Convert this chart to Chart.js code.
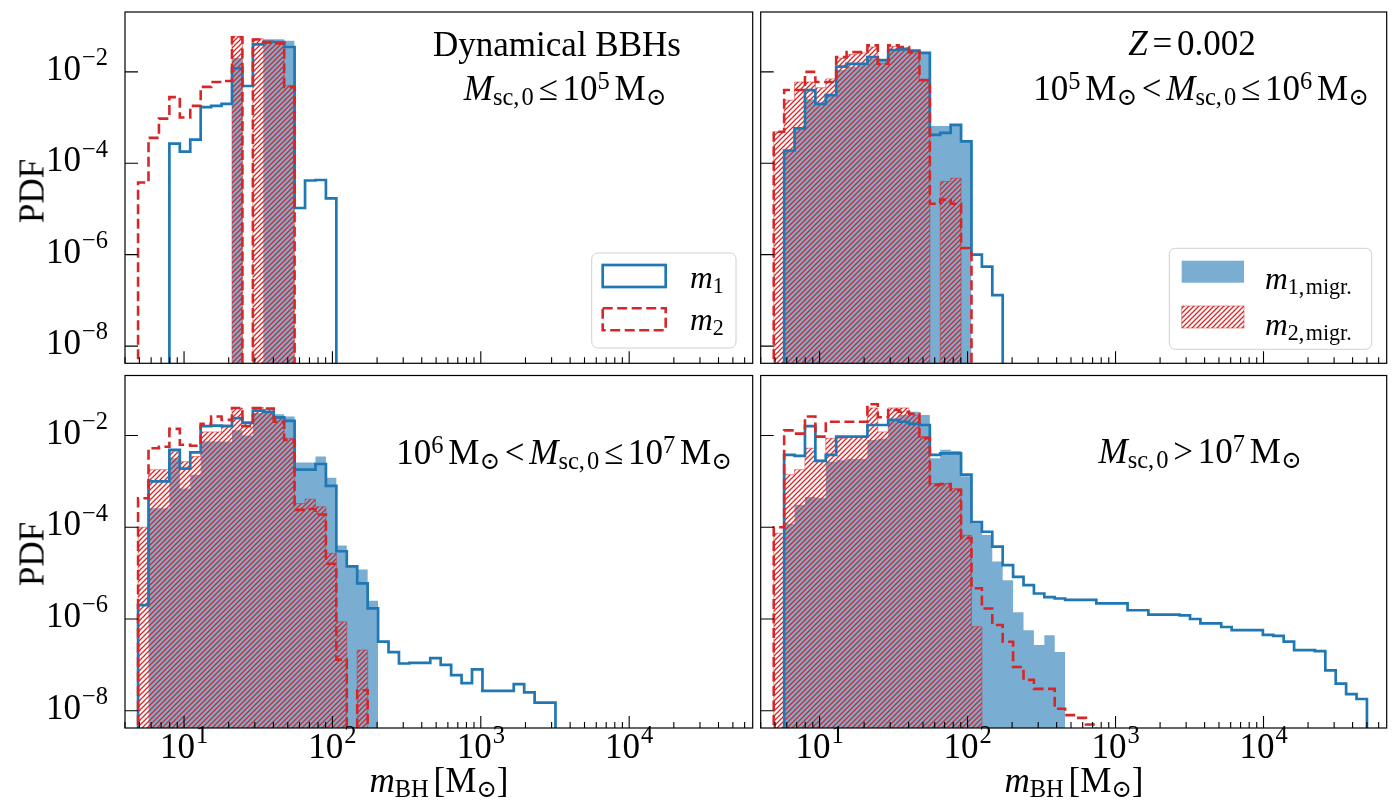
<!DOCTYPE html>
<html>
<head>
<meta charset="utf-8">
<script src="https://cdn.jsdelivr.net/npm/chart.js@4.4.0/dist/chart.umd.min.js"></script>
<style>
  body { margin: 0; background: #fff; width: 1397px; height: 803px; overflow: hidden; position: relative; }
  canvas { position: absolute; left: 0; top: 0; }
  .t { position: absolute; font-family: "Liberation Serif", "DejaVu Serif", serif; font-size: 35px; line-height: 1;
       white-space: nowrap; color: #000; }
  .c { transform: translateX(-50%); }
  .m { word-spacing: -4px; }
  .lg { font-size: 31.5px; }
  .s { font-size: 0.7em; vertical-align: -0.22em; line-height: 0; }
  .p { font-size: 0.7em; vertical-align: 0.45em; line-height: 0; }
  .rot { transform: translate(-50%, -50%) rotate(-90deg); }
</style>
</head>
<body>
<canvas id="pA" width="1397" height="803"></canvas>
<canvas id="pB" width="1397" height="803"></canvas>
<canvas id="pC" width="1397" height="803"></canvas>
<canvas id="pD" width="1397" height="803"></canvas>

<!-- panel titles -->
<div class="t c" style="left:557px; top:27px;">Dynamical BBHs</div>
<div class="t c m" style="left:565px; top:71px;"><i>M</i><span class="s">sc, 0</span> ≤ 10<span class="p">5</span> M<span class="s">⊙</span></div>
<div class="t c m" style="left:1192px; top:26px;"><i>Z</i> = 0.002</div>
<div class="t c m" style="left:1201px; top:71px;">10<span class="p">5</span> M<span class="s">⊙</span> &lt; <i>M</i><span class="s">sc, 0</span> ≤ 10<span class="p">6</span> M<span class="s">⊙</span></div>
<div class="t c m" style="left:564px; top:435px;">10<span class="p">6</span> M<span class="s">⊙</span> &lt; <i>M</i><span class="s">sc, 0</span> ≤ 10<span class="p">7</span> M<span class="s">⊙</span></div>
<div class="t c m" style="left:1200px; top:434px;"><i>M</i><span class="s">sc, 0</span> &gt; 10<span class="p">7</span> M<span class="s">⊙</span></div>

<!-- legend labels -->
<div class="t lg" style="left:690px; top:262px;"><i>m</i><span class="s">1</span></div>
<div class="t lg" style="left:690px; top:304px;"><i>m</i><span class="s">2</span></div>
<div class="t lg m" style="left:1265px; top:263px;"><i>m</i><span class="s">1, migr.</span></div>
<div class="t lg m" style="left:1265px; top:309px;"><i>m</i><span class="s">2, migr.</span></div>

<!-- axis labels -->
<div class="t rot" style="left:32px; top:191px;">PDF</div>
<div class="t rot" style="left:32px; top:554px;">PDF</div>
<div class="t c m" style="left:439px; top:763px;"><i>m</i><span class="s">BH</span> [M<span class="s">⊙</span>]</div>
<div class="t c m" style="left:1074px; top:763px;"><i>m</i><span class="s">BH</span> [M<span class="s">⊙</span>]</div>

<script>
// ---------- binning and axes ----------
const BIN_LO = 4.9;      // first bin edge [Msun]
const BIN_HI = 5.0e4;    // last bin edge [Msun]
const N_BINS = 57;       // log-spaced bins

const X_MIN = 4.0, X_MAX = 6.8e4;
const Y_MIN = 4.2e-9, Y_MAX = 0.204;
const X_MAJOR = [1e1, 1e2, 1e3, 1e4];
const Y_MAJOR = [1e-2, 1e-4, 1e-6, 1e-8];

// ---------- PDF per bin (bin 0 first, arrays stop at last non-empty bin) ----------
// Msc,0 <= 1e5
const dynLow_m1 = [0, 0, 0, 2.7e-4, 1.8e-4, 3.3e-4, 1.7e-3, 1.8e-3, 2.0e-3, 1.2e-2, 4.9e-3, 4.0e-2, 4.5e-2, 4.5e-2, 3.5e-2, 1.05e-5, 4.2e-5, 4.3e-5, 1.7e-5];
const dynLow_m2 = [3.8e-5, 3.6e-4, 9.5e-4, 2.8e-3, 1.0e-3, 1.8e-3, 4.7e-3, 6.0e-3, 6.3e-3, 5.7e-2, 0, 5.1e-2, 4.4e-2, 4.2e-2, 4.7e-3];
const dynLow_m1mig = [0, 0, 0, 0, 0, 0, 0, 0, 0, 2.0e-2, 0, 0, 5.2e-2, 5.2e-2, 4.8e-2];
const dynLow_m2mig = [0, 0, 0, 0, 0, 0, 0, 0, 0, 6.0e-2, 0, 5.3e-2, 4.8e-2, 4.5e-2, 5.0e-3];

// 1e5 < Msc,0 <= 1e6
const dynMid_m1 = [0, 1.9e-4, 5.8e-4, 4.0e-3, 2.0e-3, 3.1e-3, 1.3e-2, 1.5e-2, 1.5e-2, 2.1e-2, 1.8e-2, 3.0e-2, 3.1e-2, 2.9e-2, 2.6e-2, 4.2e-4, 4.6e-4, 6.9e-4, 3.0e-4, 1.0e-6, 5.5e-7, 1.3e-7];
const dynMid_m2 = [4.9e-4, 4.0e-3, 4.0e-3, 1.0e-2, 6.0e-3, 6.0e-3, 2.1e-2, 2.7e-2, 2.7e-2, 3.8e-2, 1.5e-2, 3.8e-2, 3.5e-2, 2.7e-2, 6.6e-3, 1.3e-5, 1.6e-5, 1.3e-5, 1.4e-6];
const dynMid_m1mig = [0, 1.9e-4, 5.8e-4, 2.5e-3, 2.0e-3, 3.1e-3, 1.1e-2, 1.3e-2, 1.4e-2, 1.9e-2, 1.8e-2, 2.8e-2, 3.0e-2, 2.9e-2, 2.6e-2, 6.5e-4, 6.5e-4, 7.0e-4, 3.0e-4];
const dynMid_m2mig = [4.9e-4, 2.4e-3, 6.0e-3, 6.0e-3, 4.5e-3, 7.0e-3, 2.0e-2, 2.4e-2, 2.6e-2, 3.5e-2, 1.5e-2, 3.6e-2, 3.4e-2, 2.6e-2, 6.6e-3, 0, 4.0e-5, 4.7e-5];

// 1e6 < Msc,0 <= 1e7
const dynHigh_m1 = [2.0e-6, 1.0e-3, 1.0e-3, 4.9e-3, 1.9e-3, 4.3e-3, 1.6e-2, 1.65e-2, 1.6e-2, 2.4e-2, 1.9e-2, 3.5e-2, 3.3e-2, 2.5e-2, 2.1e-2, 1.8e-3, 1.8e-3, 2.4e-3, 8.0e-4, 3.0e-5, 1.4e-5, 6.0e-6, 1.7e-6, 3.2e-7, 1.9e-7, 1.07e-7, 1.1e-7, 1.1e-7, 1.4e-7, 1.0e-7, 6.0e-8, 4.0e-8, 8.0e-8, 2.7e-8, 2.7e-8, 2.7e-8, 3.8e-8, 2.5e-8, 1.5e-8, 1.5e-8];
const dynHigh_m2 = [4.3e-4, 5.3e-3, 5.7e-3, 1.4e-2, 6.3e-3, 6.0e-3, 1.8e-2, 2.6e-2, 2.2e-2, 4.0e-2, 1.6e-2, 4.0e-2, 3.9e-2, 2.0e-2, 8.0e-3, 2.4e-4, 2.5e-4, 1.9e-4, 1.6e-5, 1.3e-7, 0, 2.8e-8];
const dynHigh_m1mig = [0, 2.6e-4, 2.6e-4, 3.2e-3, 7.0e-4, 1.4e-3, 7.4e-3, 7.4e-3, 7.4e-3, 1.3e-2, 1.0e-2, 3.1e-2, 3.1e-2, 2.9e-2, 2.6e-2, 2.6e-3, 2.6e-3, 3.5e-3, 1.2e-3, 4.0e-5, 1.5e-5, 1.2e-5, 2.5e-6];
const dynHigh_m2mig = [1.0e-4, 1.8e-3, 1.8e-3, 4.5e-3, 2.7e-3, 3.5e-3, 1.2e-2, 1.2e-2, 1.7e-2, 4.0e-2, 2.0e-2, 4.1e-2, 3.7e-2, 2.4e-2, 8.7e-3, 3.3e-4, 4.1e-4, 2.8e-4, 2.7e-5, 8.7e-7, 0, 2.1e-7];

// Msc,0 > 1e7
const dynMassive_m1 = [0, 3.8e-3, 3.6e-3, 1.6e-2, 2.8e-3, 3.8e-3, 9.5e-3, 9.5e-3, 9.5e-3, 1.7e-2, 1.7e-2, 2.2e-2, 2.0e-2, 1.8e-2, 1.7e-2, 3.8e-3, 4.1e-3, 4.1e-3, 1.4e-3, 1.3e-4, 8.0e-5, 3.8e-5, 1.5e-5, 8.3e-6, 5.5e-6, 3.6e-6, 3.0e-6, 2.8e-6, 2.6e-6, 2.6e-6, 2.6e-6, 2.2e-6, 2.2e-6, 2.2e-6, 1.55e-6, 1.55e-6, 1.25e-6, 1.25e-6, 1.25e-6, 1.2e-6, 1.0e-6, 8.0e-7, 8.0e-7, 6.7e-7, 5.7e-7, 5.7e-7, 5.7e-7, 4.5e-7, 4.3e-7, 3.2e-7, 2.1e-7, 2.1e-7, 2.0e-7, 7.6e-8, 3.9e-8, 2.3e-8, 1.8e-8];
const dynMassive_m2 = [1.0e-4, 1.3e-2, 1.1e-2, 2.6e-2, 9.5e-3, 2.0e-2, 2.0e-2, 2.0e-2, 2.0e-2, 4.8e-2, 2.5e-2, 3.6e-2, 3.3e-2, 3.0e-2, 8.8e-3, 8.4e-4, 8.8e-4, 6.5e-4, 5.8e-5, 4.7e-6, 1.7e-6, 7.4e-7, 3.2e-7, 9.0e-8, 4.7e-8, 3.0e-8, 3.0e-8, 1.1e-8, 8.0e-9, 7.0e-9, 5.0e-9];
const dynMassive_m1mig = [0, 1.2e-4, 3.1e-4, 4.6e-4, 4.4e-4, 2.7e-3, 2.9e-3, 3.1e-3, 3.1e-3, 8.0e-3, 8.5e-3, 2.2e-2, 2.8e-2, 3.3e-2, 2.8e-2, 3.2e-3, 4.9e-3, 4.6e-3, 1.3e-3, 1.2e-4, 6.8e-5, 1.8e-5, 7.0e-6, 1.4e-6, 5.7e-7, 2.7e-7, 4.4e-7, 1.9e-7];
const dynMassive_m2mig = [7.4e-5, 1.4e-3, 1.8e-3, 5.3e-3, 2.9e-3, 8.7e-3, 8.7e-3, 9.5e-3, 9.5e-3, 4.0e-2, 1.2e-2, 4.0e-2, 4.0e-2, 2.8e-2, 9.5e-3, 9.0e-4, 9.0e-4, 7.0e-4, 6.7e-5, 6.8e-7];

// ---------- styles ----------
const BLUE = '#1f77b4';
const RED = '#d62728';
const BLUE_FILL = 'rgba(31,119,180,0.6)';
const FONT = '"Liberation Serif", "DejaVu Serif", serif';
const FS = 35;

const lgLo = Math.log10(BIN_LO), lgHi = Math.log10(BIN_HI);
const EDGES = [];
for (let k = 0; k <= N_BINS; k++) EDGES.push(Math.pow(10, lgLo + k * (lgHi - lgLo) / N_BINS));

const FLOOR = 1e-14; // empty bins sit far below the axis (log axis has no zero)

function stepPoints(vals) {
  const n = vals.length;
  const pts = [{ x: EDGES[0], y: FLOOR }];
  for (let k = 0; k < n; k++) pts.push({ x: EDGES[k], y: vals[k] > 0 ? vals[k] : FLOOR });
  pts.push({ x: EDGES[n], y: vals[n - 1] > 0 ? vals[n - 1] : FLOOR });
  pts.push({ x: EDGES[n], y: FLOOR });
  return pts;
}

function hatchPattern(ctx) {
  const p = 5;
  const c = document.createElement('canvas');
  c.width = p; c.height = p;
  const g = c.getContext('2d');
  g.strokeStyle = RED;
  g.lineWidth = 1.3;
  g.beginPath();
  g.moveTo(-1, p + 1); g.lineTo(p + 1, -1);
  g.moveTo(-1, 1); g.lineTo(1, -1);
  g.moveTo(p - 1, p + 1); g.lineTo(p + 1, p - 1);
  g.stroke();
  return ctx.createPattern(c, 'repeat');
}

function makeDatasets(ctx, m1, m2, m1mig, m2mig) {
  const base = { stepped: true, pointRadius: 0, tension: 0, clip: 0 };
  return [
    { label: 'm2', data: stepPoints(m2), borderColor: RED, borderWidth: 2.6, borderDash: [10, 4.5], fill: false, order: 0 },
    { label: 'm1', data: stepPoints(m1), borderColor: BLUE, borderWidth: 2.7, fill: false, order: 1 },
    { label: 'm2 migr.', data: stepPoints(m2mig), borderColor: 'rgba(214,39,40,0.5)', borderWidth: 1, backgroundColor: hatchPattern(ctx), fill: 'start', order: 2 },
    { label: 'm1 migr.', data: stepPoints(m1mig), borderColor: 'rgba(0,0,0,0)', borderWidth: 1, backgroundColor: BLUE_FILL, fill: 'start', order: 3 }
  ].map(d => Object.assign({}, base, d));
}

function drawPow(ctx, exp, x, y, align) {
  const e = String(exp).replace('-', '\u2212');
  ctx.font = FS + 'px ' + FONT;
  const w10 = ctx.measureText('10').width;
  ctx.font = (FS * 0.7) + 'px ' + FONT;
  const we = ctx.measureText(e).width;
  const total = w10 + 1 + we;
  const x0 = align === 'right' ? x - total : x - total / 2;
  ctx.fillStyle = '#000';
  ctx.textBaseline = 'alphabetic';
  ctx.textAlign = 'left';
  ctx.font = FS + 'px ' + FONT;
  ctx.fillText('10', x0, y);
  ctx.font = (FS * 0.7) + 'px ' + FONT;
  ctx.fillText(e, x0 + w10 + 1, y - FS * 0.42);
}

// frame, inward ticks, tick labels and legend patches
const panelDeco = {
  id: 'panelDeco',
  afterDraw(chart, args, opts) {
    const { ctx, chartArea: a, scales: { x, y } } = chart;
    ctx.save();
    ctx.strokeStyle = '#000';
    ctx.lineWidth = 1.1;
    ctx.beginPath();
    // x ticks (bottom, pointing in)
    for (let d = 1; d <= 1e5; d *= 10) {
      for (let m = 1; m <= 9; m++) {
        const v = m * d;
        if (v < X_MIN || v > X_MAX) continue;
        const px = x.getPixelForValue(v);
        const len = m === 1 ? 12 : 6;
        ctx.moveTo(px, a.bottom); ctx.lineTo(px, a.bottom - len);
      }
    }
    Y_MAJOR.forEach(v => {
      const py = y.getPixelForValue(v);
      ctx.moveTo(a.left, py); ctx.lineTo(a.left + 13, py);
    });
    ctx.stroke();
    ctx.lineWidth = 1.2;
    ctx.strokeRect(a.left, a.top, a.right - a.left, a.bottom - a.top);

    if (opts.yLabels) Y_MAJOR.forEach(v => drawPow(ctx, Math.round(Math.log10(v)), a.left - 17, y.getPixelForValue(v) + 8, 'right'));
    if (opts.xLabels) X_MAJOR.forEach(v => drawPow(ctx, Math.round(Math.log10(v)), x.getPixelForValue(v), a.bottom + 30, 'center'));

    const lg = opts.legend;
    if (lg) {
      const b = lg.box;
      ctx.beginPath();
      ctx.roundRect(b[0], b[1], b[2], b[3], 6);
      ctx.fillStyle = 'rgba(255,255,255,0.8)';
      ctx.fill();
      ctx.strokeStyle = '#d0d0d0';
      ctx.lineWidth = 1;
      ctx.stroke();
      lg.items.forEach(it => {
        const ds = chart.data.datasets[it.ds];
        const [px, py, pw, ph] = it.rect;
        if (it.kind === 'line') {
          ctx.setLineDash(ds.borderDash || []);
          ctx.strokeStyle = ds.borderColor;
          ctx.lineWidth = ds.borderWidth;
          ctx.strokeRect(px, py, pw, ph);
          ctx.setLineDash([]);
        } else {
          ctx.fillStyle = ds.backgroundColor;
          ctx.fillRect(px, py, pw, ph);
          if (it.edge) {
            ctx.strokeStyle = ds.borderColor;
            ctx.lineWidth = 1;
            ctx.strokeRect(px, py, pw, ph);
          }
        }
      });
    }
    ctx.restore();
  }
};

function makePanel(id, area, series, deco) {
  const canvas = document.getElementById(id);
  const ctx = canvas.getContext('2d');
  return new Chart(canvas, {
    type: 'line',
    data: { datasets: makeDatasets(ctx, ...series) },
    options: {
      responsive: false,
      animation: false,
      events: [],
      layout: { padding: { left: area[0], top: area[1], right: 1397 - area[2], bottom: 803 - area[3] } },
      scales: {
        x: { type: 'logarithmic', min: X_MIN, max: X_MAX, display: false, bounds: 'data' },
        y: { type: 'logarithmic', min: Y_MIN, max: Y_MAX, display: false, bounds: 'data' }
      },
      plugins: { legend: { display: false }, tooltip: { enabled: false }, panelDeco: deco }
    },
    plugins: [panelDeco]
  });
}

makePanel('pA', [125, 12, 752.7, 363.3], [dynLow_m1, dynLow_m2, dynLow_m1mig, dynLow_m2mig], {
  yLabels: true, xLabels: false,
  legend: { box: [591.7, 253, 144.3, 95], items: [
    { ds: 1, kind: 'line', rect: [602.7, 265, 63, 22] },
    { ds: 0, kind: 'line', rect: [602.7, 308.3, 63, 22] }
  ] }
});
makePanel('pB', [760.7, 12, 1386.7, 363.3], [dynMid_m1, dynMid_m2, dynMid_m1mig, dynMid_m2mig], {
  yLabels: false, xLabels: false,
  legend: { box: [1169.3, 248.3, 202.4, 101], items: [
    { ds: 3, kind: 'fill', rect: [1181.7, 260.7, 62.3, 22] },
    { ds: 2, kind: 'fill', edge: true, rect: [1181.7, 306, 62.3, 22] }
  ] }
});
makePanel('pC', [125, 375.5, 752.7, 728], [dynHigh_m1, dynHigh_m2, dynHigh_m1mig, dynHigh_m2mig], {
  yLabels: true, xLabels: true
});
makePanel('pD', [760.7, 375.5, 1386.7, 728], [dynMassive_m1, dynMassive_m2, dynMassive_m1mig, dynMassive_m2mig], {
  yLabels: false, xLabels: true
});
</script>
</body>
</html>
